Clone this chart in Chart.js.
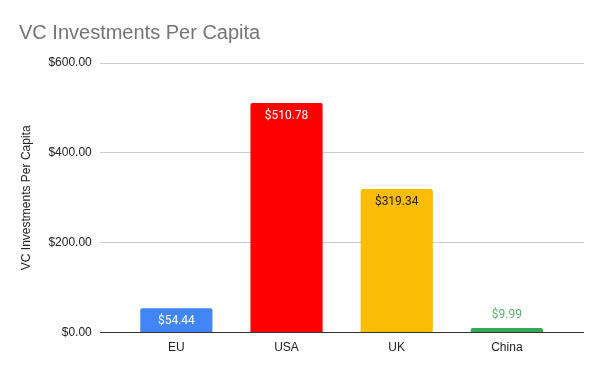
<!DOCTYPE html>
<html>
<head>
<meta charset="utf-8">
<script src="https://cdn.jsdelivr.net/npm/chart.js@4"></script>
<style>
  html, body { margin: 0; padding: 0; background: #fff; }
</style>
</head>
<body>
<canvas id="myChart" width="600" height="371"></canvas>
<script>
const countries = ['EU', 'USA', 'UK', 'China'];
const perCapita = [54.44, 510.78, 319.34, 9.99];
const barColors = ['#4285F4', '#FF0000', '#FBBC04', '#34A853'];
const labelColors = ['#ffffff', '#ffffff', '#222222', '#57B46B'];
const yTicks = [0, 200, 400, 600];

const money = v => '$' + v.toFixed(2);

// value labels: inside the bar top, or above it when the bar is too short
const valueLabels = {
  id: 'valueLabels',
  afterDatasetsDraw(chart) {
    const ctx = chart.ctx;
    const meta = chart.getDatasetMeta(0);
    ctx.save();
    ctx.font = '12px Roboto';
    ctx.textAlign = 'center';
    ctx.textBaseline = 'middle';
    meta.data.forEach((bar, i) => {
      const h = bar.base - bar.y;
      const y = h > 18 ? bar.y + 13 : bar.y - 13;
      ctx.fillStyle = labelColors[i];
      ctx.fillText(money(perCapita[i]), bar.x, y);
    });
    ctx.restore();
  }
};

const ctx = document.getElementById('myChart').getContext('2d');
const chart = new Chart(ctx, {
  type: 'bar',
  data: {
    datasets: [{
      label: 'VC Investments Per Capita',
      data: perCapita.map((v, i) => ({ x: i, y: v })),
      backgroundColor: barColors,
      borderRadius: { topLeft: 2, topRight: 2 },
      borderSkipped: 'bottom',
      barPercentage: 0.655,
      categoryPercentage: 1
    }]
  },
  options: {
    responsive: false,
    animation: false,
    layout: { padding: { left: 19, right: 16, top: 0, bottom: 8 } },
    plugins: {
      legend: { display: false },
      tooltip: { enabled: false },
      title: {
        display: true,
        text: 'VC Investments Per Capita',
        align: 'start',
        color: '#757575',
        font: { family: 'Arial', size: 20, weight: 'normal' },
        padding: { top: 21, bottom: 18 }
      }
    },
    scales: {
      x: {
        type: 'linear',
        min: -0.695,
        max: 3.7,
        offset: false,
        grid: { display: false, drawTicks: false },
        border: { display: false },
        ticks: {
          stepSize: 1,
          includeBounds: false,
          color: '#222',
          font: { family: 'Arial', size: 12 },
          padding: 8,
          callback: v => countries[v] !== undefined && Number.isInteger(v) ? countries[v] : ''
        }
      },
      y: {
        min: 0,
        max: 600,
        afterBuildTicks: axis => { axis.ticks = yTicks.map(v => ({ value: v })); },
        grid: {
          color: c => c.tick.value === 0 ? '#333333' : '#cccccc',
          drawTicks: false
        },
        border: { display: false },
        ticks: {
          color: '#222',
          font: { family: 'Arial', size: 12 },
          padding: 8,
          callback: v => money(v)
        },
        title: {
          display: true,
          text: 'VC Investments Per Capita',
          color: '#222',
          font: { family: 'Arial', size: 12 },
          padding: { top: 0, bottom: 7 }
        }
      }
    }
  },
  plugins: [valueLabels]
});
</script>
</body>
</html>
